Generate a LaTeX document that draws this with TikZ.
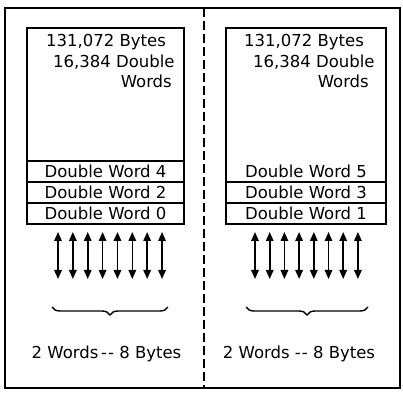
\documentclass[tikz,border=0pt]{standalone}
\usepackage{fontspec}
\setmainfont{DejaVu Sans}
\usetikzlibrary{arrows.meta,positioning,calc,decorations.pathreplacing}
\newcommand{\dbldash}{-\kern1pt-}

\begin{document}
\begin{tikzpicture}[
    x=1pt, y=1pt,
    every node/.style={font=\fontsize{16.5}{19}\selectfont},
    memtop/.style={minimum width=#1,minimum height=133pt,anchor=north west,inner sep=0pt,outer sep=0pt},
    dw/.style={draw,line width=1.2pt,minimum width=#1,minimum height=21pt,inner sep=0pt,outer sep=0pt},
    txt/.style={inner sep=0pt},
    bus/.style={<->,line width=1.6pt},
    brc/.style={decorate,decoration={brace,amplitude=8pt},line width=1.4pt},
    >={Triangle[length=9pt,width=7.5pt]}
  ]
  \useasboundingbox (0,0) rectangle (403,393);
  \draw[line width=1.7pt] (5,5) rectangle (400,385);
  \draw[line width=1.4pt,dash pattern=on 9pt off 4pt] (204,385) -- (204,5);

  % left half: even double words
  \node[memtop=157pt,draw,line width=1.2pt] (ltop) at (27,365) {};
  \node[dw=157pt,below=0pt of ltop] (l4) {Double Word 4};
  \node[dw=157pt,below=0pt of l4] (l2) {Double Word 2};
  \node[dw=157pt,below=0pt of l2] (l0) {Double Word 0};
  \node[txt,anchor=base west] (lbytes) at ($(ltop.north west)+(19,-19)$) {131,072 Bytes};
  \node[txt,anchor=base west] (ldbl) at ($(ltop.north west)+(26,-40)$) {16,384 Double};
  \node[txt,anchor=base east] (lwords) at ($(ltop.north west)+(145,-60)$) {Words};

  \foreach \i in {0,...,7}
    \draw[bus] ($(l0.south west)+(31+14.86*\i,-8)$) -- ++(0,-47);
  \draw[brc] (168,86) -- (52,86);
  \node[anchor=base] (lbus) at (106.5,35) {2 Words\,\dbldash\ 8 Bytes};

  % right half: odd double words
  \node[memtop=160pt] (rtop) at (226,365) {};
  \node[dw=160pt,draw=none,below=0pt of rtop] (r5) {Double Word 5};
  \node[dw=160pt,below=0pt of r5] (r3) {Double Word 3};
  \node[dw=160pt,below=0pt of r3] (r1) {Double Word 1};
  \draw[line width=1.2pt] (r5.south west) |- (rtop.north east) -- (r5.south east);
  \node[txt,anchor=base west] (rbytes) at ($(rtop.north west)+(18,-19)$) {131,072 Bytes};
  \node[txt,anchor=base west] (rdbl) at ($(rtop.north west)+(27,-40)$) {16,384 Double};
  \node[txt,anchor=base east] (rwords) at ($(rtop.north west)+(143,-60)$) {Words};

  \foreach \i in {0,...,7}
    \draw[bus] ($(r1.south west)+(29+14.7*\i,-8)$) -- ++(0,-47);
  \draw[brc] (368,86) -- (246,86);
  \node[anchor=base] (rbus) at (299,35) {2 Words \dbldash\ 8 Bytes};
\end{tikzpicture}
\end{document}
